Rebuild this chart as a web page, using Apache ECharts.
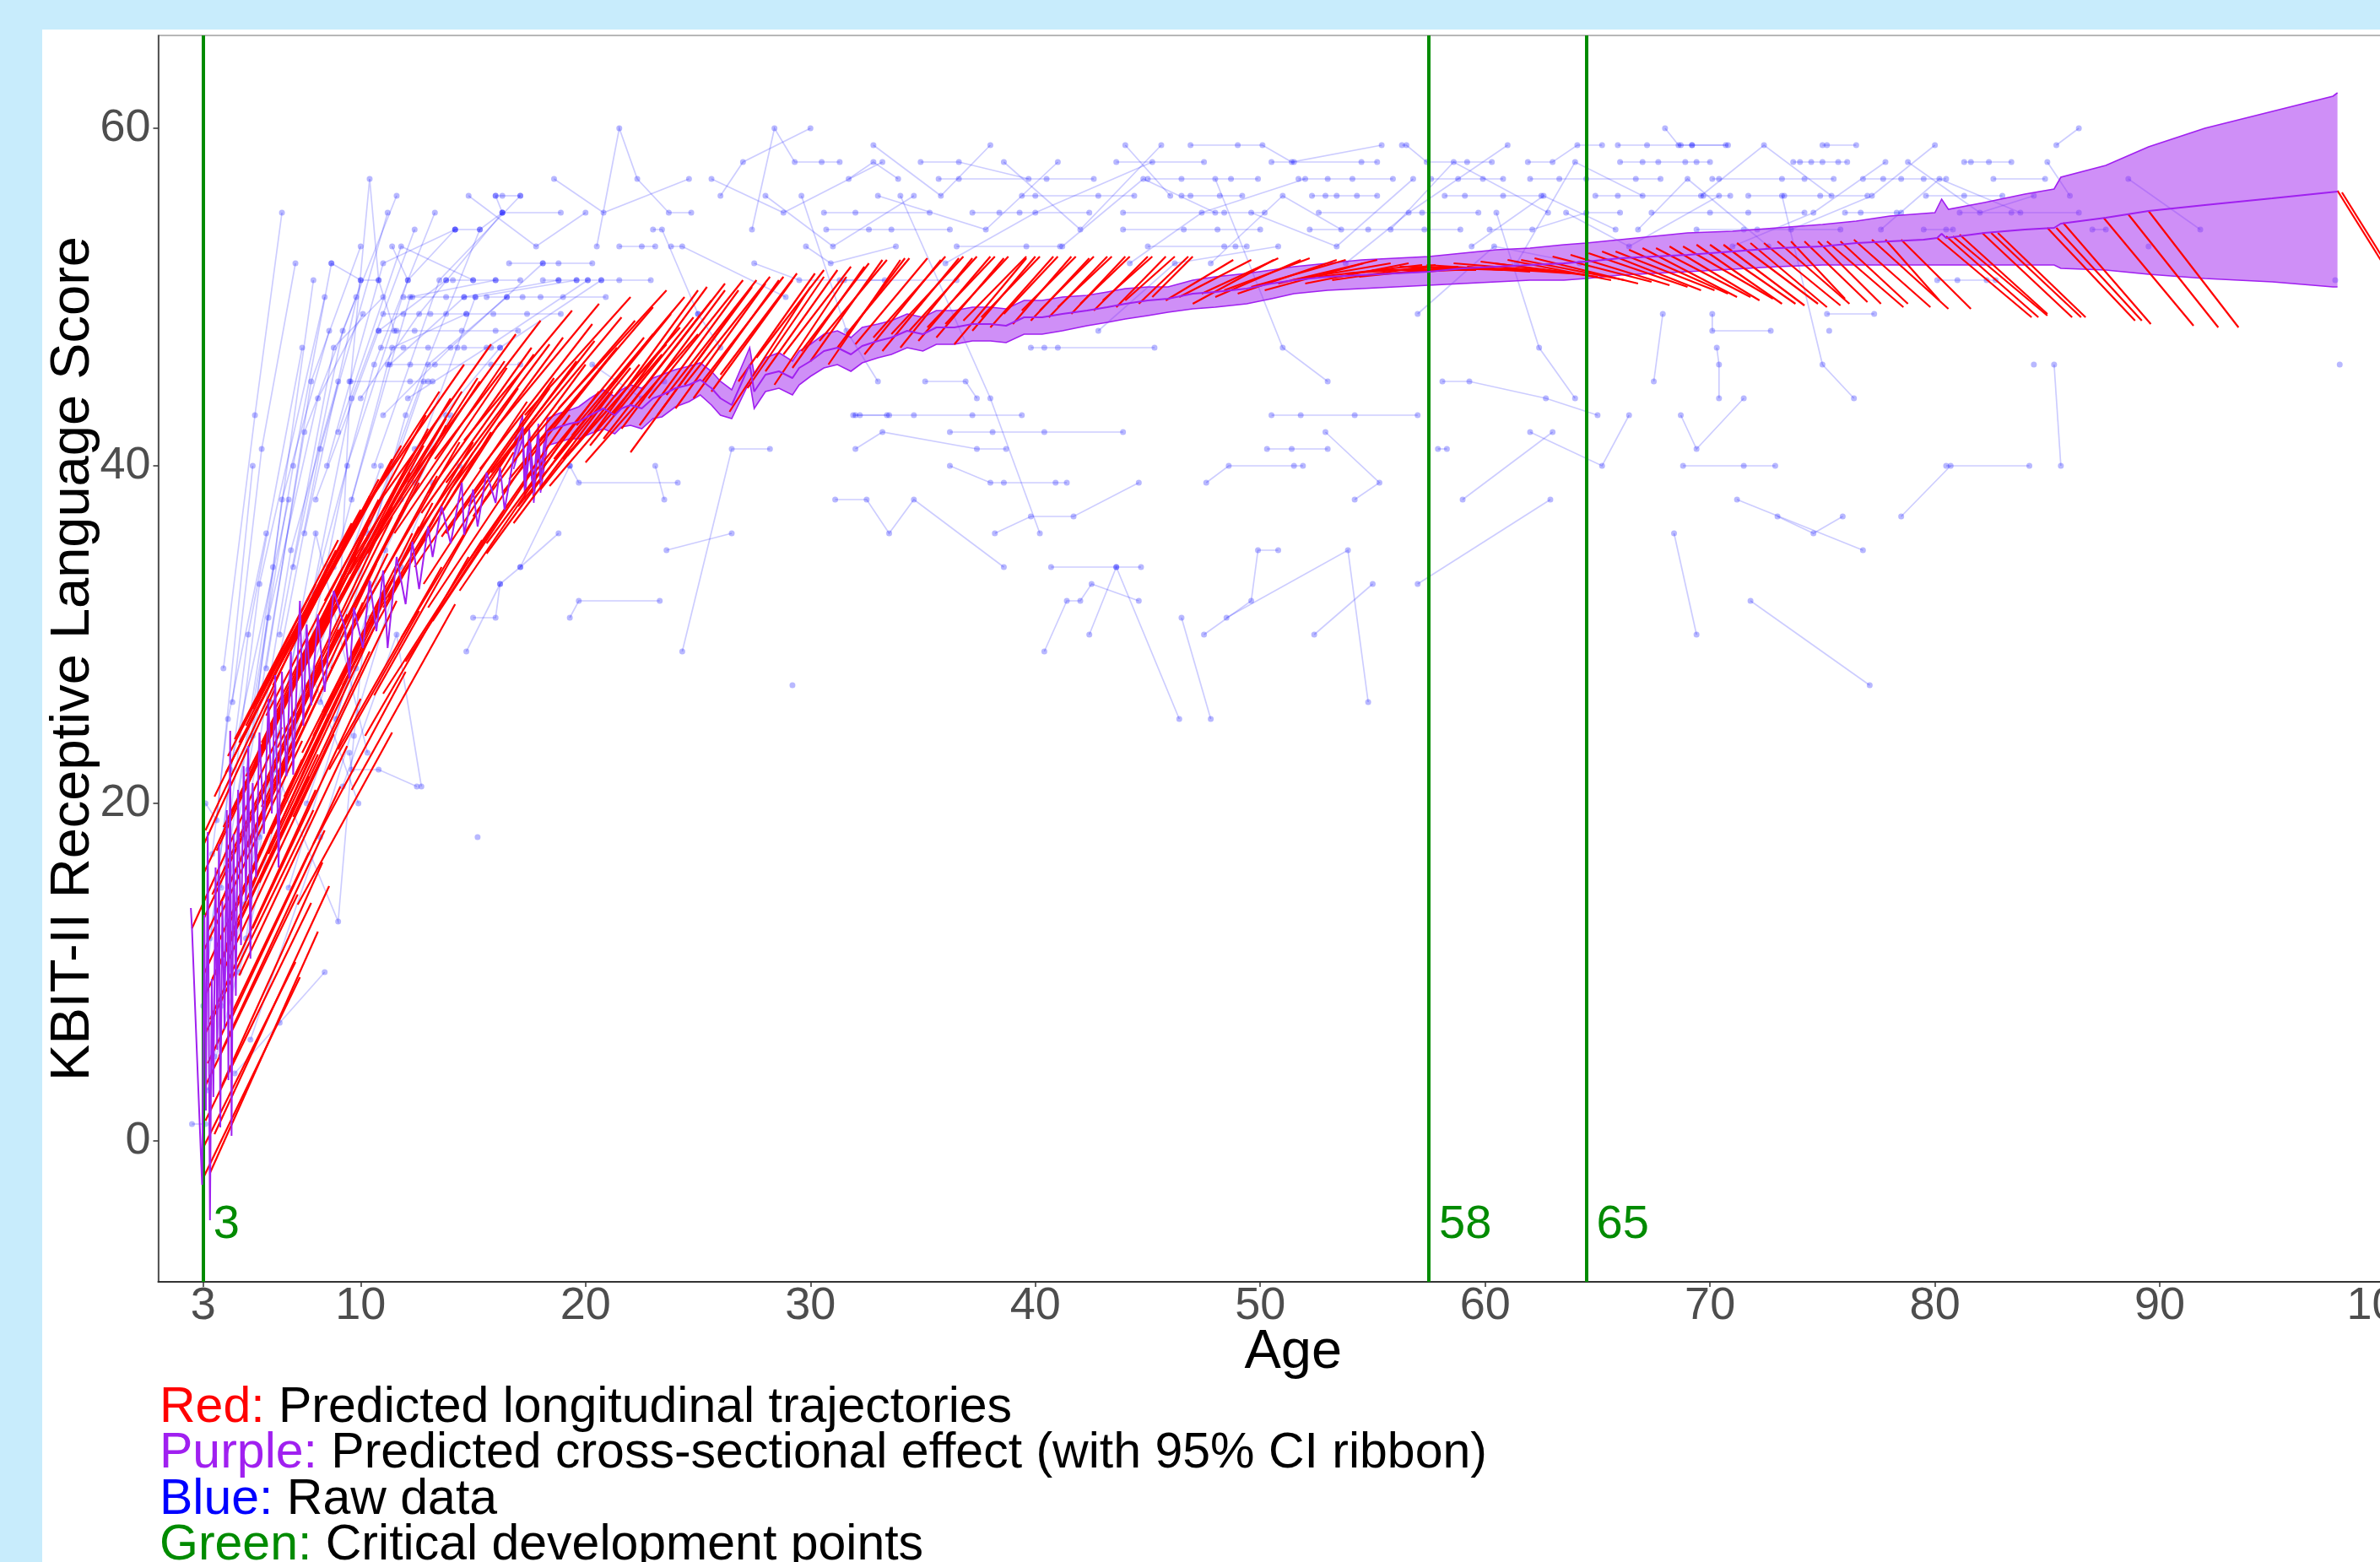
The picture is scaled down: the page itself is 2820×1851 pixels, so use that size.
<!DOCTYPE html>
<html>
<head>
<meta charset="utf-8">
<script src="https://cdn.jsdelivr.net/npm/echarts@6/dist/echarts.min.js"></script>
<style>
html, body { margin: 0; padding: 0; width: 2820px; height: 1851px; overflow: hidden; background: #c8ecfc; }
#panel { position: absolute; left: 50px; top: 35px; right: 0; bottom: 0; background: #ffffff; }
#chart { position: absolute; left: 0; top: 0; width: 2820px; height: 1851px; }
</style>
</head>
<body>
<div id="panel"></div>
<div id="chart"></div>
<script>
// axis ticks and marker lines
var xTicks = [3, 10, 20, 30, 40, 50, 60, 70, 80, 90, 100];
var yTicks = [0, 20, 40, 60];
var criticalAges = [3, 57.5, 64.5];
var criticalLabels = ['3', '58', '65'];

// purple: cross-sectional prediction [age, score]
var meanCurve = [
    [2.45,13.8],[2.5,12.6],[2.95,-2.6],[3.05,13.4],[3.12,1.8],[3.2,18.3],[3.3,-4.7],[3.38,9.6],[3.45,2.6],[3.55,16.2],
    [3.62,5.4],[3.7,17.6],[3.76,0.8],[3.85,14.2],[3.95,6.6],[4.05,19.6],[4.12,3.6],[4.2,24.3],[4.26,0.3],[4.35,18.2],
    [4.45,8.6],[4.55,20.8],[4.68,11.6],[4.8,22.2],[4.9,14.2],[5.0,23.4],[5.1,10.8],[5.2,21.2],[5.35,15.6],[5.5,24.2],
    [5.7,18.2],[5.9,26.2],[6.05,19.4],[6.2,27.6],[6.35,16.2],[6.5,27.8],[6.7,21.6],[6.9,29.0],[7.0,21.7],[7.3,32.0],
    [7.45,24.6],[7.6,30.6],[7.8,25.8],[8.1,31.2],[8.4,26.6],[8.8,32.6],[9.3,30.4],[9.5,27.4],[9.7,31.6],[10.1,29.2],
    [10.4,33.2],[10.7,30.2],[11.0,33.8],[11.2,29.2],[11.6,34.6],[12.0,31.8],[12.3,35.5],[12.6,32.7],[13.0,36.4],[13.2,34.6],
    [13.6,37.6],[14.0,35.4],[14.5,39.0],[14.6,35.9],[15.0,38.6],[15.2,36.4],[15.6,39.6],[16.0,37.8],[16.2,39.9],[16.4,37.4],
    [16.8,40.5],[17.2,42.3],[17.3,38.7],[17.5,41.5],[17.7,38.5],[17.9,41.8],[18.0,39.1],[18.3,42.0],[18.8,42.3],[19.3,42.5],
    [19.7,42.6],[20.2,43.0],[20.8,43.4],[21.3,43.0],[21.6,43.4],[22.0,43.6],[22.5,43.4],[23.0,44.0],[23.4,44.2],[24.0,44.6],
    [24.6,44.8],[25.1,45.1],[25.6,44.6],[26.0,44.0],[26.5,43.6],[27.3,46.0],[27.5,44.4],[28.0,45.4],[28.6,45.6],[29.2,45.2],
    [29.5,45.8],[30.0,46.2],[30.6,46.8],[31.2,47.0],[31.8,46.6],[32.3,47.1],[33.0,47.4],[33.6,47.6],[34.3,48.0],[35.0,47.8],
    [35.6,48.2],[36.4,48.2],[37.2,48.4],[38.0,48.4],[38.7,48.3],[39.5,48.8],[40.3,48.8],[41.2,49.0],[42.3,49.2],[43.2,49.4],
    [44.0,49.6],[45.0,49.8],[45.9,49.9],[47.0,50.2],[48.0,50.3],[49.4,50.5],[50.5,50.8],[51.5,51.0],[53.0,51.2],[54.5,51.3],
    [56.0,51.4],[57.5,51.5],[59.0,51.7],[60.5,51.8],[62.0,51.9],[63.5,52.0],[64.5,52.1],[66.0,52.3],[67.5,52.4],[69.0,52.5],
    [71.0,52.7],[73.0,52.9],[75.0,53.0],[76.5,53.2],[78.0,53.3],[79.5,53.4],[80.1,53.5],[80.3,53.75],[80.5,53.5],[82.2,53.8],
    [84.0,54.0],[85.3,54.1],[85.6,54.35],[87.6,54.7],[89.5,55.1],[92.0,55.45],[95.0,55.85],[97.9,56.25]
];

// 95% CI ribbon
var ribbonAge = [16.8,17.2,17.3,17.5,17.7,17.9,18.0,18.3,18.8,19.3,19.7,20.2,20.8,21.3,21.6,22.0,22.5,23.0,23.4,24.0,
    24.6,25.1,25.6,26.0,26.5,27.3,27.5,28.0,28.6,29.2,29.5,30.0,30.6,31.2,31.8,32.3,33.0,33.6,34.3,35.0,
    35.6,36.4,37.2,38.0,38.7,39.5,40.3,41.2,42.3,43.2,44.0,45.0,45.9,47.0,48.0,49.4,50.5,51.5,53.0,54.5,
    56.0,57.5,59.0,60.5,62.0,63.5,64.5,66.0,67.5,69.0,71.0,73.0,75.0,76.5,78.0,80.0,80.3,80.6,82.2,84.0,
    85.3,85.6,87.6,89.5,92.0,95.0,97.7,97.9];
var ribbonLo = [39.8,41.6,38.0,40.8,37.8,41.0,38.4,41.2,41.4,41.6,41.6,41.9,42.2,41.9,42.3,42.4,42.2,42.8,42.9,43.5,
    43.8,44.2,43.6,43.0,42.8,45.0,43.4,44.4,44.6,44.2,44.8,45.3,45.8,46.0,45.6,46.1,46.4,46.6,47.0,46.8,
    47.2,47.2,47.4,47.4,47.3,47.8,47.8,48.0,48.3,48.5,48.7,48.9,49.1,49.3,49.4,49.6,49.9,50.2,50.4,50.5,
    50.6,50.7,50.8,50.9,51.0,51.0,51.1,51.3,51.4,51.5,51.65,51.8,51.9,51.9,51.9,51.9,51.9,51.9,51.9,51.9,
    51.9,51.7,51.6,51.35,51.1,50.9,50.6,50.6];
var ribbonHi = [41.2,43.0,39.4,42.2,39.2,42.5,39.8,42.8,43.1,43.3,43.5,44.0,44.5,44.1,44.5,44.8,44.6,45.2,45.4,45.7,
    45.9,46.1,45.6,45.0,44.5,47.0,45.4,46.4,46.7,46.2,46.8,47.2,47.8,48.0,47.6,48.2,48.4,48.6,49.0,48.8,
    49.2,49.2,49.4,49.4,49.3,49.8,49.8,50.0,50.1,50.3,50.5,50.6,50.6,51.0,51.2,51.4,51.6,51.8,52.0,52.2,
    52.3,52.4,52.6,52.8,52.9,53.1,53.2,53.4,53.6,53.8,53.9,54.1,54.3,54.5,54.8,55.0,55.8,55.2,55.6,56.1,
    56.4,57.1,57.8,58.9,60.0,61.0,61.9,62.1];

// red: predicted longitudinal trajectories [age0, score0, age1, score1]
var redYoung = [
    [2.5,12.6,6.5,24.5],[3.0,-2.2,7.3,9.7],[3.3,-1.9,8.1,12.4],[3.0,-0.4,7.1,10.6],[3.1,1.2,7.8,14.1],
    [3.5,0.4,8.6,15.1],[3.0,3.0,7.2,14.6],[3.2,4.6,7.7,17.1],[3.0,6.1,7.9,19.6],[3.7,5.0,8.4,18.4],
    [3.0,8.4,7.7,21.6],[3.4,9.6,8.1,22.9],[3.0,11.2,7.4,23.7],[3.9,10.1,8.8,24.1],[3.0,13.1,7.6,26.2],
    [3.4,14.6,8.3,28.5],[3.0,15.8,7.9,29.6],[3.6,17.2,8.5,31.2],[3.1,18.4,8.2,32.8],[4.0,16.0,9.0,30.3],
    [4.2,19.3,9.3,33.7],[4.5,14.2,9.6,28.6],[4.0,21.8,8.9,34.8],[4.8,20.6,9.8,34.6],[5.0,17.4,10.1,31.9],
    [4.6,23.6,9.5,36.0],[5.3,22.4,10.3,36.3],[4.4,23.8,9.0,35.6],[5.6,19.8,10.7,34.2],[5.8,25.2,10.8,38.0],
    [6.0,27.2,10.8,39.2],[5.4,26.2,10.0,37.4],[6.3,23.3,11.4,37.0],[6.5,28.4,11.4,40.4],[6.8,26.3,11.9,39.4],
    [7.0,30.0,11.8,41.2],[7.2,28.0,12.3,40.6],[4.0,11.5,8.6,25.3],[4.3,7.4,9.1,21.0],[3.8,3.2,8.3,16.5],
    [4.6,9.8,9.4,23.4],[5.2,12.6,10.0,26.2],[5.5,15.3,10.4,29.0],[6.0,18.2,10.9,31.6],[6.2,21.0,11.2,34.8],
    [6.6,20.4,11.5,33.4],[7.0,24.6,11.8,37.1],[7.4,23.0,12.3,36.0],[7.7,26.8,12.6,39.0],[8.0,29.6,12.8,41.2],
    [8.3,25.4,13.2,37.8],[3.2,12.4,6.8,22.8],[3.0,17.5,6.2,26.8],[3.5,20.4,7.4,31.0],[4.1,22.8,8.0,33.0],
    [4.9,24.6,8.9,35.0],[5.2,25.6,9.6,36.6],[6.1,27.0,10.4,38.2],[7.6,31.0,11.3,40.0],[8.4,32.0,12.9,43.0],
    [9.0,30.0,13.8,42.4],
    [3.0,9.8,7.4,22.6],[3.3,7.2,8.0,20.8],[3.6,13.6,8.1,26.8],[3.9,18.6,8.4,30.6],[4.2,13.0,9.0,27.2],
    [4.6,17.6,9.4,31.2],[4.9,21.6,9.6,34.0],[5.1,15.0,9.9,28.8],[5.6,23.6,10.4,36.8],[5.9,17.0,10.6,30.4],
    [6.2,25.6,11.0,38.2],[6.6,24.2,11.4,37.6],[7.0,19.2,11.6,32.0],[7.4,27.8,12.2,39.6],[7.9,24.0,12.6,36.4],
    [8.2,30.6,13.0,42.2],[8.7,28.0,13.4,39.4],[9.2,33.4,14.0,44.0],[9.8,30.8,14.4,41.4],[10.5,35.4,15.2,45.2],
    [11.0,31.6,15.8,42.0],[11.7,37.0,16.4,46.2],[12.3,35.6,17.0,44.6],[13.0,38.4,17.6,47.0],[13.8,39.0,18.4,47.2]
];
var redTeen = [
    [8.5,34.0,13.5,44.4],[8.8,31.5,13.8,42.8],[9.2,27.0,14.0,38.6],[9.5,33.6,14.5,44.4],[9.8,36.8,14.6,46.0],
    [10.0,29.6,15.0,40.8],[10.3,34.8,15.3,45.0],[10.6,26.4,15.6,38.2],[10.9,38.0,15.8,47.2],[11.2,32.2,16.2,42.6],
    [11.5,36.0,16.5,45.8],[11.8,29.8,16.8,40.8],[12.1,39.0,16.9,47.8],[12.4,34.0,17.4,43.8],[12.7,37.2,17.7,46.6],
    [13.0,31.6,18.0,41.6],[13.3,40.4,18.0,48.6],[13.6,35.8,18.6,45.2],[14.0,38.6,19.0,47.6],[14.3,33.4,19.3,43.0],
    [14.6,41.5,19.4,49.2],[15.0,37.0,20.0,46.0],[15.3,39.8,20.3,48.4],[15.6,35.4,20.6,44.4],[16.0,42.2,20.6,49.6],
    [16.3,38.4,21.3,46.8],[16.6,40.8,21.6,48.8],[17.0,37.6,22.0,45.8],[17.3,43.0,22.0,50.0],[17.6,39.4,22.6,47.6],
    [18.0,41.6,23.0,49.4],[18.4,38.8,23.4,46.6],[18.8,43.4,23.6,50.4],[19.2,40.6,24.2,48.2],[19.6,42.4,24.4,50.0],
    [20.0,40.2,25.0,47.8],[9.0,23.2,13.6,34.0],[9.6,20.8,14.2,31.8],[10.2,24.0,14.8,34.6],[11.0,26.5,15.4,35.6],
    [12.0,28.4,16.6,37.8],[13.2,30.8,17.6,39.6],[14.4,32.6,18.8,41.2],[15.6,34.8,20.0,42.8],[16.8,36.6,21.2,44.4],
    [18.0,38.6,22.4,46.0],[19.0,40.4,23.6,47.2],[8.6,22.0,12.6,31.4],[7.9,17.6,12.0,27.8],[7.2,14.0,11.4,24.2],
    [12.8,33.0,17.2,42.0],[13.8,36.0,18.4,44.6],[14.8,37.6,19.6,46.2],[15.8,39.6,20.4,47.4],[16.6,39.2,21.4,47.0],
    [17.4,41.2,22.2,48.6],[18.6,40.4,23.0,47.8],[19.4,41.8,23.8,49.0],[20.2,41.2,24.8,48.8],[10.4,31.0,15.0,41.4]
];
var redAdult = [
    [20.4,42.0,25.0,50.4],[20.8,41.6,25.6,49.8],[21.2,43.0,25.4,50.6],[21.6,42.2,26.2,50.4],[22.0,43.6,26.2,50.8],
    [22.4,42.4,26.8,50.4],[22.8,44.0,27.0,51.0],[23.2,43.0,27.4,50.6],[23.6,44.2,27.6,51.0],[24.0,43.4,28.0,50.8],
    [24.4,44.8,28.2,51.2],[24.8,44.0,28.6,51.0],[25.2,45.0,28.8,51.2],[25.6,44.4,29.2,51.0],[26.0,45.4,29.4,51.4],
    [26.4,43.2,30.0,50.6],[26.8,45.0,30.2,51.4],[27.2,44.6,30.6,51.2],[27.6,46.4,30.6,51.6],[28.0,45.6,31.2,51.6],
    [28.4,44.8,31.6,51.2],[28.8,46.6,31.8,51.8],[29.2,45.8,32.4,51.8],[29.6,46.8,32.6,52.0],[30.0,46.2,33.2,52.2],
    [30.4,47.4,33.4,52.2],[30.8,46.0,34.0,52.2],[31.2,47.0,34.2,52.3],[31.6,47.8,34.4,52.3],[22.0,40.8,26.6,49.2]
];
var redMid = [
    [32.0,47.2,35.2,52.3],[32.4,46.6,35.8,52.2],[32.8,47.6,36.0,52.4],[33.2,46.8,36.6,52.3],[33.6,47.8,36.8,52.4],
    [34.0,47.0,37.2,52.3],[34.4,48.0,37.4,52.4],[34.8,47.4,38.0,52.4],[35.2,48.2,38.2,52.4],[35.6,47.6,38.6,52.3],
    [36.0,48.4,38.8,52.4],[36.4,47.2,39.6,52.3],[36.8,48.6,39.6,52.4],[37.2,48.0,40.0,52.4],[37.6,48.8,40.2,52.4],
    [38.0,48.2,40.8,52.4],[38.6,49.0,41.0,52.4],[39.0,48.4,41.6,52.4],[39.4,49.2,41.8,52.4],[39.8,48.6,42.4,52.3],
    [40.2,49.2,42.6,52.4],[40.6,48.8,43.2,52.4],[41.0,49.4,43.4,52.4],[41.6,49.0,44.0,52.4],[42.0,49.6,44.2,52.4],
    [42.6,49.2,45.0,52.4],[43.0,49.8,45.2,52.4],[43.6,49.4,45.8,52.4],[44.0,49.8,46.2,52.4],[44.6,49.6,46.8,52.4],
    [45.2,50.0,47.0,52.4]
];
var redLate = [
    [45.8,49.8,48.8,52.2],[46.4,50.0,49.6,52.2],[47.0,49.6,50.6,52.2],[47.4,50.2,50.8,52.3],[48.0,50.0,51.8,52.2],
    [48.4,50.4,52.2,52.3],[49.0,50.2,53.4,52.2],[49.6,50.6,53.8,52.2],[50.2,50.4,54.6,52.0],[50.8,50.8,55.2,52.2],
    [51.4,51.0,55.8,52.0],[52.0,50.8,56.6,52.0],[52.6,51.2,57.2,51.9],[53.2,51.0,57.8,51.9],[53.8,51.4,58.4,51.8],
    [54.4,51.2,58.8,51.8],[55.0,51.6,59.6,51.6],[55.6,51.4,60.2,51.7],[56.2,51.8,60.8,51.6],[56.8,51.8,61.4,51.6],
    [57.4,51.9,62.0,51.5],[58.0,51.7,62.6,51.6],[58.6,52.0,63.2,51.5],[59.2,51.8,63.8,51.4],[59.8,52.1,64.6,51.3],
    [60.4,52.0,65.0,51.2],[61.0,52.2,65.6,51.0],[61.6,52.2,66.2,51.0],[62.2,52.3,66.8,50.8]
];
var redOld = [
    [63.0,52.4,67.4,50.9],[63.8,52.5,68.2,50.7],[64.6,52.6,69.0,50.6],[65.2,52.7,69.6,50.4],[65.8,52.7,70.2,50.4],
    [66.4,52.8,70.8,50.2],[67.0,52.9,71.2,50.0],[67.6,52.9,71.8,50.0],[68.2,53.0,72.2,49.8],[68.8,53.0,72.8,49.9],
    [69.4,53.1,73.2,49.6],[70.0,53.1,73.8,49.6],[70.6,53.1,74.2,49.5],[71.2,53.2,74.8,49.6],[71.8,53.2,75.2,49.4],
    [72.4,53.2,75.8,49.5],[73.0,53.3,76.2,49.6],[73.6,53.3,76.0,49.9],[74.2,53.3,77.0,49.7],[74.8,53.3,77.6,49.6],
    [75.2,53.3,78.6,49.4],[75.8,53.3,78.8,49.6],[76.4,53.4,79.8,49.4],[77.2,53.4,80.6,49.3],[77.8,53.4,80.2,49.8],
    [78.5,53.4,81.6,49.3],[80.1,53.5,84.3,48.8],[80.5,53.6,84.6,48.8],[80.8,53.6,85.0,48.9],[81.1,53.7,85.0,49.0],
    [82.1,53.8,86.1,48.8],[82.5,53.8,86.5,48.8],[82.8,53.8,86.7,48.8],[85.0,54.1,88.9,48.6],[85.4,54.1,89.2,48.6],
    [85.7,54.4,89.6,48.4],[87.5,54.7,91.5,48.3],[88.6,54.9,92.6,48.2],[89.5,55.1,93.5,48.2],[97.9,56.3,101.6,48.4],
    [98.1,56.2,101.8,48.3]
];

// blue: raw data, one subject per list [age, score, age, score, ...]
var rawYoung = [
    [2.5,1, 3.1,1],[3.1,20, 3.6,19, 5.2,40],[3.0,8, 4.2,22, 6.8,38],[3.3,12, 5.0,30, 7.4,47],
    [3.5,5, 4.8,18, 6.9,35, 9.0,45],[3.8,15, 5.5,33, 8.4,50],[4.4,4, 6.4,7, 8.4,10],
    [3.8,8, 6.2,22, 9.0,13, 9.7,24, 10.4,33],[9.0,30, 9.55,45, 10.4,57, 10.8,51, 11.5,48],
    [4.5,20, 7.0,40, 8.7,52],[5.0,22, 7.5,42, 9.8,50],[4.8,14, 7.2,30, 9.9,20],[5.5,18, 8.0,36, 10.3,23],
    [9.5,23, 9.6,22, 10.8,22, 12.5,21],[9.2,21, 11.6,30, 12.7,21],[15.2,18],
    [5.2,24, 6.5,38, 8.6,48],[5.8,28, 7.8,45, 10.0,53],[6.0,26, 8.2,41, 11.2,55],[6.4,30, 8.8,47, 11.0,50],
    [6.6,22, 9.4,40, 12.1,51],[7.0,34, 9.2,48, 11.6,56],[7.2,28, 9.6,44, 12.4,54],[7.5,36, 10.0,51],
    [7.8,32, 10.6,46, 13.3,55],[8.0,38, 10.8,48, 13.8,51],[8.2,26, 10.2,35, 12.8,45],[8.5,40, 11.0,52, 14.2,54],
    [8.8,34, 11.4,47, 14.7,49],[9.0,42, 11.8,53, 15.0,51],[9.3,30, 12.0,43, 15.3,54],[9.6,38, 12.2,50, 16.0,51],
    [10.0,44, 12.6,49, 16.3,55],[10.3,36, 13.0,46, 16.5,50],[10.6,40, 13.5,51, 17.1,56],[11.0,43, 14.0,47, 18.1,52],
    [11.3,46, 14.6,50, 18.8,51],[11.8,38, 15.1,50, 19.6,51],[12.1,44, 15.6,47, 20.1,51],[12.4,41, 16.2,47, 20.7,51],
    [3.6,10, 5.9,31, 8.1,44, 10.1,49],[4.0,16, 6.1,34, 7.9,51],[4.3,26, 5.6,41, 7.1,52],[3.9,28, 5.3,43, 6.5,55],
    [4.6,10, 7.6,27, 10.9,40],[5.1,6, 8.2,18, 11.8,34],[6.8,15, 9.8,28, 13.2,39],[7.6,20, 10.4,31, 14.4,40],
    [8.9,25, 11.1,35, 14.0,43],[3.2,3, 4.9,12, 6.3,24],[3.4,17, 4.1,25, 5.8,36]
];
var rawUpper = [
    [16.0,56, 16.3,56, 17.1,56],[14.2,54, 15.3,54, 16.3,55, 18.9,55],[20.5,53, 21.5,60, 22.3,57, 23.7,55, 24.7,55],
    [23.0,54, 23.4,54, 25.0,49],[27.4,54, 28.4,60, 29.3,58, 30.5,58, 31.3,58],[31.7,57, 32.8,58, 33.9,57],
    [30.6,55, 32.0,55, 35.3,55],[30.7,54, 32.6,54, 33.6,54, 36.2,54],[29.8,53, 30.9,52, 33.8,53],
    [27.5,52, 29.5,51, 31.3,51, 33.3,51],[21.5,53, 22.5,53, 23.1,53],[23.8,53, 24.3,53, 28.9,50],
    [34.9,58, 36.6,58, 39.7,57],[35.7,57, 36.6,57, 40.5,57, 42.6,57],[37.2,55, 38.4,55, 39.3,55, 42.4,55],
    [39.4,56, 40.0,56, 42.8,56, 44.4,56],[36.5,53, 39.6,53, 41.1,53],[43.6,58, 47.5,58],
    [45.0,57, 46.5,57, 48.7,57, 49.9,57],[46.9,59, 49.0,59, 50.1,59, 51.4,58, 55.4,59],
    [46.5,56, 46.9,56, 48.2,56, 49.2,56],[43.9,55, 48.4,55, 50.2,55],[43.9,54, 46.6,54, 48.1,54, 50.0,54],
    [45.0,53, 48.4,53, 48.9,53, 49.4,53],[50.5,58, 51.5,58, 54.5,58, 55.2,58],[51.7,57, 53.0,57, 54.1,57, 55.9,57],
    [52.3,56, 52.9,56, 53.4,56, 54.3,56, 55.2,56],[52.6,55, 57.2,55, 59.7,55],[52.2,54, 54.8,54, 57.3,54, 58.9,54],
    [56.3,59, 56.5,59, 57.4,58, 59.2,58, 60.3,58],[57.6,57, 58.8,57, 59.9,57, 60.8,57],
    [58.2,56, 59.1,56, 60.8,56, 62.5,56],[60.2,54, 62.1,54, 64.5,55, 66.0,55],[61.9,58, 63.0,58, 64.1,59, 65.2,59],
    [62.0,57, 63.3,57, 64.5,57, 66.7,57, 67.8,57],[64.9,56, 65.9,56, 69.7,56, 70.9,56],
    [65.9,59, 67.2,59, 68.7,59, 69.2,59, 70.7,59],[66.0,58, 67.0,58, 67.7,58, 68.9,58, 69.4,58, 70.0,58],
    [67.4,55, 70.0,55, 71.7,55, 74.2,55],[68.0,60, 68.6,59, 69.2,59, 70.8,59],
    [70.1,57, 70.4,57, 73.2,57, 74.2,57, 75.5,57],[69.4,54, 71.5,54, 72.1,54, 75.8,54],
    [71.7,56, 73.3,56, 74.9,56, 77.0,56],[73.7,58, 74.0,58, 74.5,58, 75.0,58, 75.7,58, 76.1,58],
    [75.0,59, 75.2,59, 76.5,59],[76.0,55, 76.7,55, 78.3,55, 78.5,55],[76.8,57, 77.7,57, 78.5,57, 79.5,57, 80.5,57],
    [79.6,56, 81.3,56, 83.0,56],[81.3,58, 81.6,58, 82.4,58, 83.4,58],[79.5,54, 80.5,54, 80.8,54],
    [80.1,51, 81.0,51, 82.3,51, 82.7,51],[82.6,57, 84.9,57],[85.4,59, 86.4,60],[88.6,57, 91.8,54],
    [87.0,54, 87.6,54],[81.1,55, 83.4,55, 86.4,55],[85.0,58, 86.0,56],[97.8,51],[89.5,53],
    [16.6,52, 18.1,52, 18.8,52, 20.3,52],[13.8,51, 14.1,51, 15.0,51, 16.0,51, 17.1,51],
    [18.1,51, 18.8,51, 19.6,51, 20.1,51, 20.7,51, 21.5,51, 22.9,51],[11.9,50, 12.3,50, 13.8,50, 14.6,50, 15.1,50],
    [15.6,50, 16.5,50, 17.2,50, 18.0,50, 19.0,50, 20.9,50],
    [11.0,49, 11.9,49, 13.1,49, 13.8,49, 14.7,49, 15.9,49, 17.4,49, 18.9,49],
    [10.8,48, 11.6,48, 12.4,48, 14.5,48, 16.0,48, 17.0,48],[10.9,47, 11.9,47, 13.0,47, 14.3,47, 14.6,47, 15.8,47, 16.2,47],
    [11.2,46, 12.2,46, 13.3,46, 15.8,46, 17.1,46],[9.5,45, 12.2,45, 13.0,45, 13.2,45],[8.7,52, 10.0,51, 10.8,51],
    [11.4,53, 12.1,51, 14.2,54],[16.3,55, 16.0,56],
    [25.6,57, 28.8,55, 33.2,58],[28.0,56, 31.0,53, 34.6,56],[33.0,56, 37.8,54, 41.0,58],[36.0,52, 40.0,55, 45.2,58],
    [38.6,58, 42.0,54, 45.6,59],[41.2,53, 44.8,57, 48.0,55],[44.2,52, 47.4,55, 52.0,57],[47.8,52, 51.0,56, 53.6,54],
    [49.6,55, 53.4,53, 56.8,57],[53.8,52, 56.6,55, 61.0,59],[55.8,54, 58.6,58, 62.8,55],[59.4,53, 62.6,56, 65.8,54],
    [61.4,52, 64.0,58, 67.0,56],[63.6,55, 66.4,53, 70.4,56],[66.8,54, 69.0,57, 72.6,53],[69.6,56, 72.4,59, 75.4,56],
    [71.0,53, 74.6,55, 77.8,58],[73.6,54, 77.2,56, 80.0,59],[77.6,54, 80.2,57, 83.8,55],[78.8,58, 82.0,55, 84.4,56],
    [57.0,49, 60.4,53, 64.2,52],[42.8,48, 46.2,52, 50.8,53],[26.0,56, 27.0,58, 30.0,60],[32.8,59, 35.8,56, 38.0,59],
    [44.0,59, 46.0,56],[18.6,57, 20.8,55, 24.6,57],[14.8,56, 17.8,53, 20.0,55]
];
var rawLower = [
    [15.0,31, 16.0,31, 16.2,33, 17.1,34, 18.8,36],[14.7,29, 16.2,33],[19.3,40, 19.7,39, 24.1,39],
    [19.3,31, 19.7,32, 23.3,32],[23.1,40, 23.5,38],[24.3,29, 26.5,41, 28.2,41],[29.2,27],
    [31.1,38, 32.5,38, 33.5,36, 34.6,38, 38.6,34],[31.9,43, 32.2,43, 33.4,43],[32.0,41, 33.2,42, 37.4,41, 38.7,41],
    [32.0,43, 33.5,43, 34.6,43, 37.2,43, 39.4,43],[35.1,45, 36.9,45, 37.4,44],[36.2,42, 38.1,42, 40.4,42, 43.9,42],
    [36.2,40, 38.0,39, 38.6,39, 40.9,39, 41.4,39],[38.2,36, 39.8,37, 41.7,37, 44.6,39],[40.7,34, 43.6,34, 44.7,34],
    [40.4,29, 41.4,32, 42.0,32, 42.5,33, 44.6,32],[42.4,30, 43.6,34, 46.4,25],[46.5,31, 47.8,25],
    [47.5,30, 49.6,32, 49.9,35, 50.8,35],[48.5,31, 53.9,35, 54.8,26],[47.6,39, 48.6,40, 51.5,40, 51.9,40],
    [50.3,41, 51.4,41, 53.0,41],[50.5,43, 51.8,43, 54.2,43, 57.0,43],[52.9,42, 55.3,39, 54.2,38],[57.9,41, 58.3,41],
    [52.4,30, 55.0,33],[57.0,33, 62.9,38],[58.1,45, 59.3,45, 62.7,44, 65.0,43],[59.0,38, 63.0,42],
    [68.4,36, 69.4,30],[68.8,40, 71.5,40, 72.9,40],[71.2,38, 76.8,35],[71.8,32, 77.1,27],[68.7,43, 69.4,41, 71.5,44],
    [78.5,37, 80.7,40],[75.2,49, 77.3,49],[75.3,48],[70.1,49, 70.1,48, 72.7,48],[70.3,47, 70.4,46, 70.4,44],
    [67.9,49, 67.5,45],[85.6,40, 85.3,46],[98.0,46],[39.8,47, 40.4,47, 41.0,47, 45.3,47],[31.5,51, 36.5,51],
    [20.3,46, 22.5,44, 23.5,45],[23.6,35, 26.5,36],[17.1,34, 19.3,40],[25.0,49, 26.0,47],[12.4,39, 13.8,43],
    [80.5,40, 84.2,40],[84.4,46],[73.0,37, 74.6,36, 75.9,37],[62.0,42, 65.2,40, 66.4,43],
    [34.0,56, 38.0,44, 40.2,36],[48.0,57, 51.0,47, 53.0,45],[60.5,55, 62.4,47, 64.0,44],[73.2,56, 75.0,46, 76.4,44],
    [29.6,56, 31.6,48, 33.0,45]
];

var notes = [
    ['Red:', '#ff0000', ' Predicted longitudinal trajectories'],
    ['Purple:', '#a020f0', ' Predicted cross-sectional effect (with 95% CI ribbon)'],
    ['Blue:', '#0000ff', ' Raw data'],
    ['Green:', '#008b00', ' Critical development points']
];

var FONT = '"Liberation Sans", Arial, Helvetica, sans-serif';
var chart = echarts.init(document.getElementById('chart'));

var rawAll = rawYoung.concat(rawUpper, rawLower);
var rawPoints = [];
rawAll.forEach(function (s) {
    for (var i = 0; i < s.length; i += 2) rawPoints.push([s[i], s[i + 1]]);
});
var redSegs = redYoung.concat(redTeen, redAdult, redMid, redLate, redOld);

function segItem(params, api) {
    var p0 = api.coord([api.value(0), api.value(1)]);
    var p1 = api.coord([api.value(2), api.value(3)]);
    return {
        type: 'line',
        shape: {x1: p0[0], y1: p0[1], x2: p1[0], y2: p1[1]},
        style: {stroke: '#ff0000', lineWidth: 2.2}
    };
}

function rawItem(params, api) {
    var s = rawAll[params.dataIndex];
    var pts = [];
    for (var i = 0; i < s.length; i += 2) pts.push(api.coord([s[i], s[i + 1]]));
    if (pts.length < 2) return {type: 'group', children: []};
    return {
        type: 'polyline',
        shape: {points: pts},
        style: {stroke: 'rgba(0,0,255,0.2)', lineWidth: 1.7, fill: null}
    };
}

function ribbonItem(params, api) {
    var upper = [], lower = [];
    for (var i = 0; i < ribbonAge.length; i++) {
        upper.push(api.coord([ribbonAge[i], ribbonHi[i]]));
        lower.push(api.coord([ribbonAge[i], ribbonLo[i]]));
    }
    var poly = upper.concat(lower.slice().reverse());
    return {
        type: 'group',
        children: [
            {type: 'polygon', shape: {points: poly}, style: {fill: 'rgba(160,32,240,0.5)'}},
            {type: 'polyline', shape: {points: upper}, style: {stroke: '#a020f0', lineWidth: 1.6, fill: null}},
            {type: 'polyline', shape: {points: lower}, style: {stroke: '#a020f0', lineWidth: 1.6, fill: null}}
        ]
    };
}

var graphics = notes.map(function (n, i) {
    return {
        type: 'text',
        x: 189,
        y: [1669, 1723, 1778, 1832][i],
        z: 100,
        style: {
            text: '{k|' + n[0] + '}' + n[2],
            fill: '#000000',
            fontSize: 59,
            fontFamily: FONT,
            verticalAlign: 'middle',
            rich: {k: {fill: n[1], fontSize: 59, fontFamily: FONT}}
        }
    };
});

var option = {
    animation: false,
    textStyle: {fontFamily: FONT},
    grid: {
        left: 187.5, right: -57, top: 42, bottom: 332,
        show: true, borderColor: '#a0a0a0', borderWidth: 1.5,
        containLabel: false, outerBoundsMode: 'none'
    },
    xAxis: {
        type: 'value', min: 1.0, max: 101.93,
        name: 'Age', nameLocation: 'middle', nameGap: 52, nameMoveOverlap: false,
        nameTextStyle: {fontSize: 65, color: '#000000', fontFamily: FONT},
        splitLine: {show: false},
        axisLine: {onZero: false, lineStyle: {color: '#333333', width: 2}},
        axisTick: {customValues: xTicks, length: 6, lineStyle: {color: '#333333', width: 1.5}},
        axisLabel: {customValues: xTicks, fontSize: 54, color: '#4d4d4d', margin: 2, fontFamily: FONT}
    },
    yAxis: {
        type: 'value', min: -8.35, max: 65.5,
        name: 'KBIT-II Receptive Language Score', nameLocation: 'middle', nameGap: 68, nameMoveOverlap: false,
        nameTextStyle: {fontSize: 65, color: '#000000', fontFamily: FONT},
        splitLine: {show: false},
        axisLine: {onZero: false, lineStyle: {color: '#333333', width: 1.5}},
        axisTick: {customValues: yTicks, length: 6, lineStyle: {color: '#333333', width: 1.5}},
        axisLabel: {customValues: yTicks, fontSize: 54, color: '#4d4d4d', margin: 9, fontFamily: FONT}
    },
    graphic: graphics,
    series: [
        {
            type: 'custom', name: 'raw lines', z: 1, clip: true,
            renderItem: rawItem,
            encode: {x: 0, y: 1},
            data: rawAll.map(function (s) { return [s[0], s[1]]; })
        },
        {
            type: 'scatter', name: 'raw points', z: 1,
            symbolSize: 7,
            itemStyle: {color: 'rgba(0,0,255,0.28)', opacity: 1},
            data: rawPoints
        },
        {
            type: 'custom', name: 'ribbon', z: 2, clip: true,
            renderItem: ribbonItem,
            encode: {x: 0, y: 1},
            data: [[ribbonAge[0], ribbonLo[0]]]
        },
        {
            type: 'custom', name: 'longitudinal', z: 4, clip: true,
            renderItem: segItem,
            encode: {x: [0, 2], y: [1, 3]},
            data: redSegs
        },
        {
            type: 'line', name: 'cross-sectional', z: 5,
            showSymbol: false, clip: true,
            lineStyle: {color: '#a020f0', width: 2},
            data: meanCurve
        },
        {
            type: 'scatter', name: 'critical', z: 6,
            symbolSize: 0,
            itemStyle: {color: '#008b00', opacity: 1},
            data: criticalAges.map(function (a) { return [a, -5]; }),
            label: {
                show: true, position: 'right', distance: 12,
                formatter: function (p) { return criticalLabels[p.dataIndex]; },
                color: '#008b00', fontSize: 56, fontFamily: FONT,
                opacity: 1, textBorderWidth: 0
            },
            markLine: {
                silent: true, symbol: ['none', 'none'],
                label: {show: false},
                lineStyle: {color: '#008b00', width: 4, type: 'solid', opacity: 1},
                data: criticalAges.map(function (a) { return {xAxis: a}; })
            }
        }
    ]
};

chart.setOption(option);
</script>
</body>
</html>
